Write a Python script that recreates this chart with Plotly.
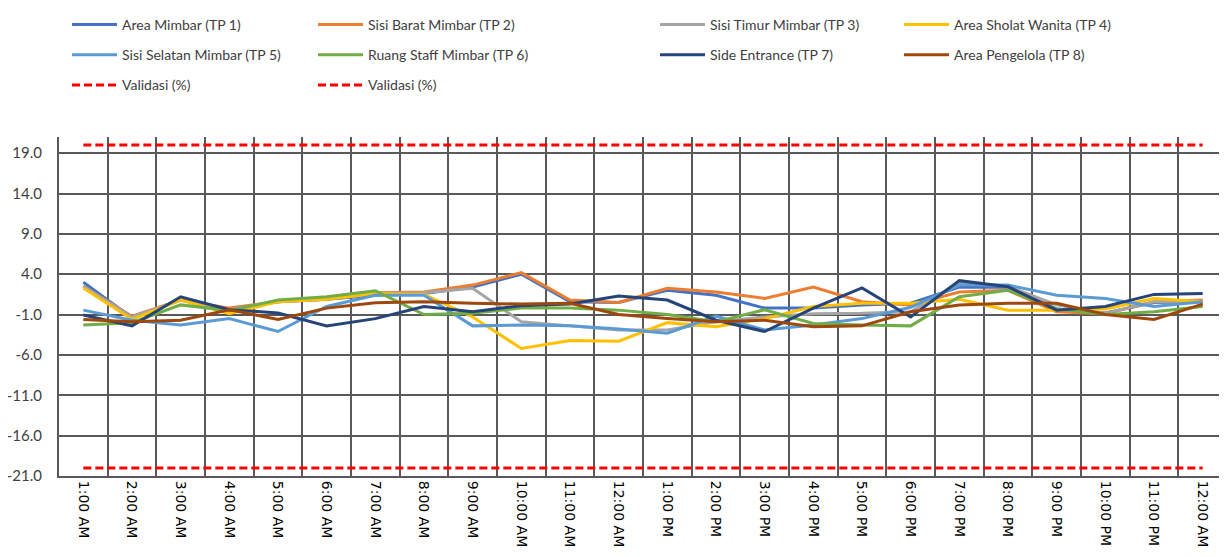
import plotly.graph_objects as go

hours = ["1:00 AM", "2:00 AM", "3:00 AM", "4:00 AM", "5:00 AM", "6:00 AM", "7:00 AM", "8:00 AM",
         "9:00 AM", "10:00 AM", "11:00 AM", "12:00 AM ", "1:00 PM", "2:00 PM", "3:00 PM", "4:00 PM",
         "5:00 PM", "6:00 PM", "7:00 PM", "8:00 PM", "9:00 PM", "10:00 PM", "11:00 PM", "12:00 AM"]

tp1 = [3.0, -1.4, 0.8, -0.5, 0.6, 0.9, 1.4, 1.6, 2.4, 4.0, 0.6, 0.5, 2.0, 1.4, -0.2, -0.2, 0.2, 0.4, 2.4, 2.4, -0.3, -0.8, 0.5, 0.6]
tp2 = [2.5, -1.2, 0.8, -0.2, 0.6, 0.9, 1.7, 1.8, 2.65, 4.2, 0.8, 0.5, 2.25, 1.8, 1.0, 2.4, 0.6, 0.2, 1.8, 2.0, -0.65, -0.9, 0.6, 0.8]
tp3 = [2.5, -1.3, 0.8, -0.4, 0.6, 0.9, 1.6, 1.7, 2.25, -1.9, -2.4, -2.9, -2.9, -1.9, -1.3, -0.9, -0.85, -0.65, 3.0, 2.5, 0.2, -0.85, 0.6, 0.6]
tp4 = [2.3, -1.6, 0.8, -0.9, 0.6, 0.9, 1.6, 1.5, -1.3, -5.2, -4.2, -4.3, -2.0, -2.5, -1.5, 0.0, 0.4, 0.4, 0.9, -0.45, -0.45, -0.3, 1.0, 0.6]
tp5 = [-0.45, -1.7, -2.3, -1.5, -3.1, 0.0, 1.4, 1.4, -2.4, -2.3, -2.4, -2.8, -3.3, -1.2, -2.9, -2.3, -1.5, -0.1, 2.65, 2.65, 1.4, 1.0, 0.0, 0.6]
tp6 = [-2.3, -2.0, 0.2, -0.5, 0.8, 1.2, 1.95, -1.0, -0.85, -0.2, -0.2, -0.45, -1.0, -1.9, -0.4, -2.1, -2.3, -2.4, 1.2, 2.0, -0.3, -1.0, -0.65, 0.0]
tp7 = [-1.06, -2.4, 1.2, -0.4, -0.8, -2.4, -1.5, 0.0, -0.65, 0.1, 0.3, 1.3, 0.8, -1.7, -3.1, -0.2, 2.3, -1.3, 3.2, 2.45, -0.45, 0.0, 1.5, 1.6]
tp8 = [-1.6, -1.9, -1.7, -0.4, -1.6, -0.2, 0.46, 0.6, 0.4, 0.3, 0.4, -1.0, -1.5, -1.9, -1.7, -2.5, -2.4, -0.65, 0.2, 0.4, 0.4, -1.0, -1.6, 0.3]
valid_hi = [20.0] * 24
valid_lo = [-20.0] * 24

y_ticks = [-21.0, -16.0, -11.0, -6.0, -1.0, 4.0, 9.0, 14.0, 19.0]
y_labels = [f"{v:.1f}" for v in y_ticks]

names = ["Area Mimbar (TP 1)", "Sisi Barat Mimbar (TP 2)", "Sisi Timur Mimbar (TP 3)", "Area Sholat Wanita (TP 4)",
         "Sisi Selatan Mimbar (TP 5)", "Ruang Staff Mimbar (TP 6)", "Side Entrance (TP 7)", "Area Pengelola (TP 8)"]
colors = ["#4472C4", "#ED7D31", "#A5A5A5", "#FFC000", "#5B9BD5", "#70AD47", "#264478", "#9E480E"]
series = [tp1, tp2, tp3, tp4, tp5, tp6, tp7, tp8]
legend_of = ["legend", "legend2", "legend3", "legend4", "legend", "legend2", "legend3", "legend4"]

fig = go.Figure()
for i, (n, c, s, lg) in enumerate(zip(names, colors, series, legend_of)):
    fig.add_trace(go.Scatter(x=hours, y=s, name=n, mode="lines", line=dict(color=c, width=3),
                             legend=lg, legendgroup=f"g{i}"))
for j, (vals, lg) in enumerate([(valid_hi, "legend"), (valid_lo, "legend2")]):
    fig.add_trace(go.Scatter(x=hours, y=vals, name="Validasi (%)", mode="lines",
                             line=dict(color="#FF0000", width=3, dash="8px,4px"),
                             legend=lg, legendgroup=f"v{j}"))

W, H = 1227, 557
OFF = 8  # page body margin
leg_common = dict(orientation="v", xref="container", yref="container", yanchor="top", xanchor="left",
                  font=dict(family="Lato", size=14, color="#404040"), bgcolor="rgba(0,0,0,0)",
                  tracegroupgap=9, itemwidth=45)
sym_x = [72, 318, 660, 904]
legs = {}
for k, key in enumerate(["legend", "legend2", "legend3", "legend4"]):
    legs[key] = dict(leg_common, x=(sym_x[k] - 13) / W, y=1 - 1 / H)

fig.update_layout(
    width=W, height=H,
    margin=dict(l=59 - OFF, r=OFF, t=137 - OFF, b=81 + OFF, autoexpand=False),
    paper_bgcolor="white", plot_bgcolor="white",
    showlegend=True,
    **legs,
    xaxis=dict(type="category", range=[-0.5, 23.5], tickson="boundaries", showgrid=True,
               gridcolor="#595959", gridwidth=2, tickangle=90, ticks="",
               tickfont=dict(family="DejaVu Sans", size=14, color="#000000"),
               showline=True, linecolor="#595959", linewidth=2, zeroline=False),
    yaxis=dict(range=[-21, 21], tickvals=y_ticks, ticktext=y_labels, showgrid=True,
               gridcolor="#595959", gridwidth=2, zeroline=False, showline=True,
               linecolor="#595959", linewidth=2, ticks="", ticklabelstandoff=12,
               tickfont=dict(family="Lato", size=15, color="#404040")),
)

fig.write_html("out.html")
